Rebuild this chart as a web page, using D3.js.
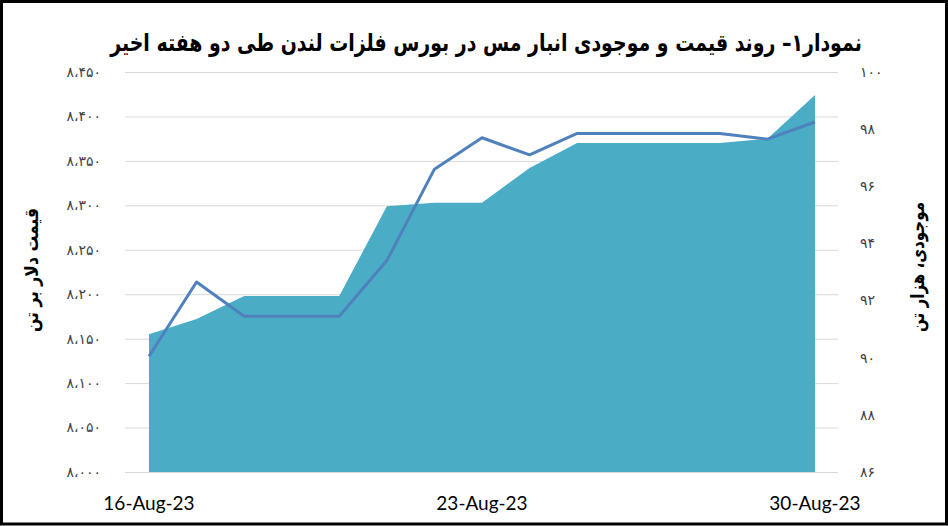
<!DOCTYPE html>
<html>
<head>
<meta charset="utf-8">
<script src="https://cdn.jsdelivr.net/npm/d3@7"></script>
<style>
  html,body{margin:0;padding:0;background:#fff;}
  svg{display:block;}
</style>
</head>
<body>
<svg id="chart" width="948" height="526"></svg>
<script>
// ---- data ----
const dates = ["2023-08-16","2023-08-17","2023-08-18","2023-08-19","2023-08-20","2023-08-21","2023-08-22","2023-08-23","2023-08-24","2023-08-25","2023-08-26","2023-08-27","2023-08-28","2023-08-29","2023-08-30"];
const price = [8155, 8172, 8198, 8198, 8198, 8299, 8303, 8303, 8342, 8370, 8370, 8370, 8370, 8375, 8424];
const stock = [90.05, 92.65, 91.45, 91.45, 91.45, 93.4, 96.6, 97.7, 97.1, 97.85, 97.85, 97.85, 97.85, 97.65, 98.25];
const leftTicks = [8000, 8050, 8100, 8150, 8200, 8250, 8300, 8350, 8400, 8450];
const rightTicks = [86, 88, 90, 92, 94, 96, 98, 100];
const xTickDates = ["2023-08-16","2023-08-23","2023-08-30"];
const xTickLabels = ["16-Aug-23","23-Aug-23","30-Aug-23"];
const titleText = "نمودار۱– روند قیمت و موجودی انبار مس در بورس فلزات لندن طی دو هفته اخیر";
const leftTitle = "قیمت دلار بر تن";
const rightTitle = "موجودی، هزار تن";

// ---- helpers ----
const parse = d3.timeParse("%Y-%m-%d");
const faDigits = "۰۱۲۳۴۵۶۷۸۹";
function toFa(n, sep){
  let s = String(n);
  if (sep && n >= 1000) s = s.slice(0, s.length-3) + "،" + s.slice(s.length-3);
  return s.replace(/[0-9]/g, c => faDigits[+c]);
}

const svg = d3.select("#chart");
const W = 948, H = 526;

const x = d3.scaleTime().domain([parse(dates[0]), parse(dates[dates.length-1])]).range([149, 815]);
const yL = d3.scaleLinear().domain([8000, 8450]).range([472, 72]);
const yR = d3.scaleLinear().domain([86, 100]).range([472, 72]);

// frame
svg.append("rect").attr("x",1.5).attr("y",1.5).attr("width",W-3).attr("height",H-3.5)
  .attr("fill","#fff").attr("stroke","#000").attr("stroke-width",3);

// gridlines
svg.append("g").selectAll("line").data(leftTicks).join("line")
  .attr("x1",125).attr("x2",838)
  .attr("y1",d=>yL(d)+0.5).attr("y2",d=>yL(d)+0.5)
  .attr("stroke","#d9d9d9").attr("stroke-width",1);

const pts = dates.map((d,i)=>({date:parse(d), price:price[i], stock:stock[i]}));

// area (price)
svg.append("path").datum(pts)
  .attr("fill","#4bacc6")
  .attr("d", d3.area().x(d=>x(d.date)).y0(yL(8000)).y1(d=>yL(d.price)));

// line (stock)
svg.append("path").datum(pts)
  .attr("fill","none").attr("stroke","#4f81bd").attr("stroke-width",3)
  .attr("stroke-linejoin","round")
  .attr("d", d3.line().x(d=>x(d.date)).y(d=>yR(d.stock)));

// left tick labels
svg.append("g").selectAll("text").data(leftTicks).join("text")
  .attr("x",101).attr("y",d=>yL(d)).attr("dy","0.35em")
  .attr("text-anchor","end")
  .attr("font-family","DejaVu Sans").attr("font-size",14).attr("fill","#404040")
  .text(d=>toFa(d,true));

// right tick labels
svg.append("g").selectAll("text").data(rightTicks).join("text")
  .attr("x",860).attr("y",d=>yR(d)).attr("dy","0.35em")
  .attr("text-anchor","start")
  .attr("font-family","DejaVu Sans").attr("font-size",14).attr("fill","#404040")
  .text(d=>toFa(d,false));

// x tick labels
svg.append("g").selectAll("text").data(xTickDates).join("text")
  .attr("x",d=>x(parse(d))).attr("y",510)
  .attr("text-anchor","middle")
  .attr("font-family","Lato, Liberation Sans, sans-serif").attr("font-size",19).attr("fill","#000")
  .text((d,i)=>xTickLabels[i]);

// condensed text helper: scale horizontally to a target width
function condensed(sel, cx, cy, rot, target){
  const L = sel.node().getComputedTextLength();
  const k = L > 0 ? Math.min(1, target / L) : 1;
  sel.attr("transform", `translate(${cx},${cy}) rotate(${rot}) scale(${k},1)`);
}

// title
const title = svg.append("text")
  .attr("x",0).attr("y",0).attr("text-anchor","middle")
  .attr("direction","rtl")
  .attr("font-family","DejaVu Sans").attr("font-weight","bold").attr("font-size",24).attr("fill","#000")
  .text(titleText);
condensed(title, 486, 51, 0, 752);

// axis titles
const lt = svg.append("text")
  .attr("x",0).attr("y",0)
  .attr("text-anchor","middle").attr("direction","rtl")
  .attr("font-family","DejaVu Sans").attr("font-weight","bold").attr("font-size",19).attr("fill","#000")
  .text(leftTitle);
condensed(lt, 38, 270, -90, 124);
const rt = svg.append("text")
  .attr("x",0).attr("y",0)
  .attr("text-anchor","middle").attr("direction","rtl")
  .attr("font-family","DejaVu Sans").attr("font-weight","bold").attr("font-size",19).attr("fill","#000")
  .text(rightTitle);
condensed(rt, 924, 267, -90, 130);
</script>
</body>
</html>
